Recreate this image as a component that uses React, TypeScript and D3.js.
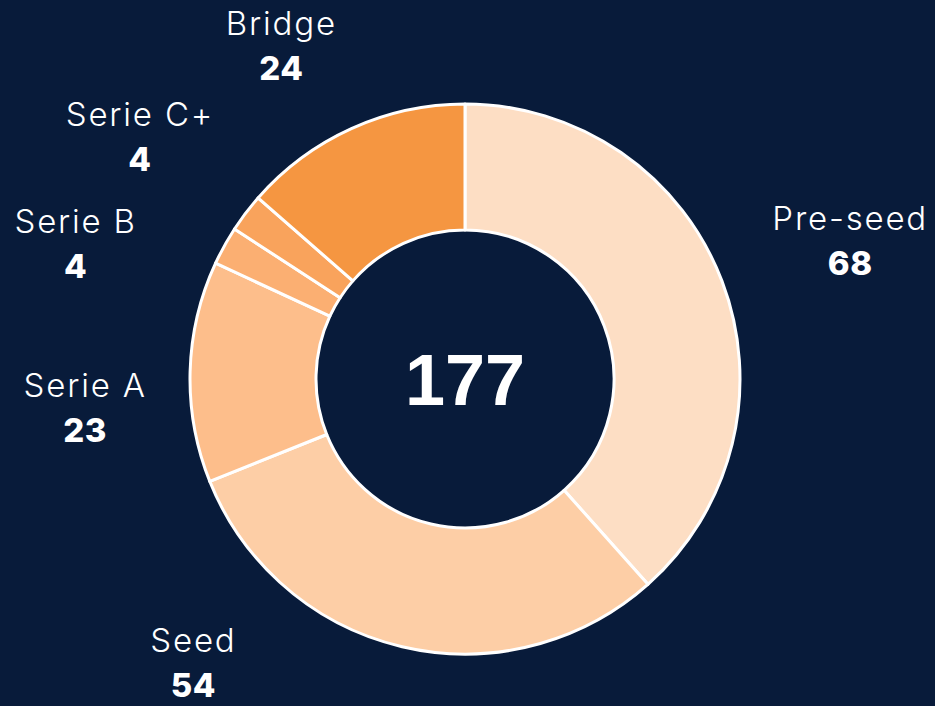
import React, { useEffect, useRef } from 'react';
import * as d3 from 'd3';

// funding rounds, clockwise from 12 o'clock
const stages = ['Pre-seed', 'Seed', 'Serie A', 'Serie B', 'Serie C+', 'Bridge'];
const counts = [68, 54, 23, 4, 4, 24];
const colors = ['#fddec4', '#fdcea6', '#fdbe8b', '#fbaf72', '#f9a35c', '#f59641'];

// label placement: angle nudge (deg) from the slice middle, and distance from centre
const labelLayout: Record<string, [number, number]> = {
    'Pre-seed': [1.2, 409],
    'Seed': [30.5, 393],
    'Serie A': [-5.9, 381],
    'Serie B': [-9.9, 412],
    'Serie C+': [-0.5, 405],
    'Bridge': [-4.5, 380],
};

const App = () => {
    const svgRef = useRef<SVGSVGElement>(null);

    useEffect(() => {
        const width = 935;
        const height = 706;
        const cx = 465;
        const cy = 379;
        const outer = 275;
        const inner = 149;

        const svg = d3.select(svgRef.current);
        svg.selectAll('*').remove();
        svg.attr('width', width).attr('height', height);

        svg.append('rect')
            .attr('width', width)
            .attr('height', height)
            .attr('fill', '#081b3a');

        const data = stages.map((s, i) => ({ stage: s, value: counts[i], color: colors[i] }));
        const total = d3.sum(counts);

        const pie = d3.pie<any>().value(d => d.value).sort(null);
        const arc = d3.arc<any>().innerRadius(inner).outerRadius(outer);

        const g = svg.append('g').attr('transform', `translate(${cx},${cy})`);

        g.selectAll('path')
            .data(pie(data))
            .enter().append('path')
            .attr('d', arc)
            .attr('fill', d => d.data.color)
            .attr('stroke', '#ffffff')
            .attr('stroke-width', 3)
            .attr('stroke-linejoin', 'round');

        g.append('text')
            .attr('text-anchor', 'middle')
            .attr('y', 26)
            .attr('fill', '#ffffff')
            .style('font-family', '"Liberation Sans", Arial, sans-serif')
            .style('font-weight', 700)
            .style('font-size', '72px')
            .text(total);

        const labels = g.selectAll('.label')
            .data(pie(data))
            .enter().append('g')
            .attr('class', 'label')
            .attr('transform', d => {
                const [nudge, r] = labelLayout[d.data.stage];
                const a = (d.startAngle + d.endAngle) / 2 + nudge * Math.PI / 180;
                return `translate(${r * Math.sin(a)},${-r * Math.cos(a)})`;
            });

        labels.append('text')
            .attr('text-anchor', 'middle')
            .attr('y', -11)
            .attr('fill', '#ffffff')
            .style('font-family', 'Inter, sans-serif')
            .style('font-weight', 300)
            .style('font-size', '33px')
            .style('letter-spacing', '1.8px')
            .text(d => d.data.stage);

        labels.append('text')
            .attr('text-anchor', 'middle')
            .attr('y', 34)
            .attr('fill', '#ffffff')
            .style('font-family', 'Inter, sans-serif')
            .style('font-weight', 800)
            .style('font-size', '33px')
            .style('letter-spacing', '0.5px')
            .text(d => d.data.value);
    }, []);

    return <svg ref={svgRef} style={{ position: 'absolute', top: 0, left: 0, display: 'block' }}></svg>;
};

export default App;
